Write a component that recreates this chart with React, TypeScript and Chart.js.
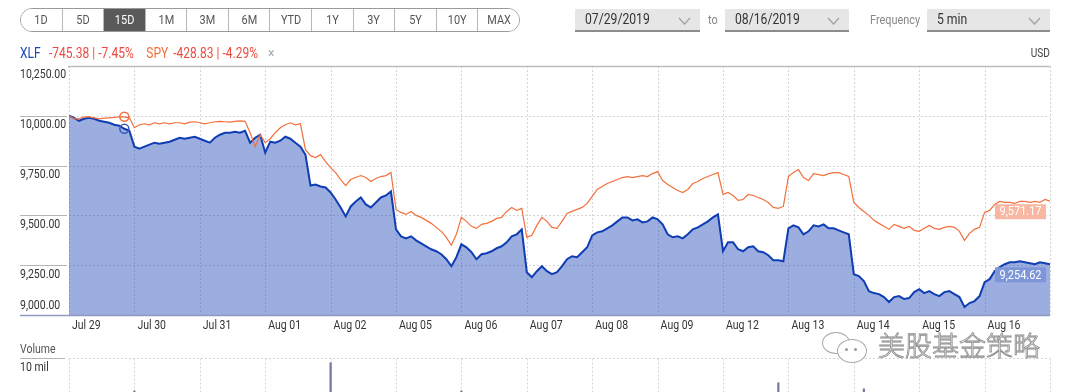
import React, { useEffect, useRef } from 'react';
import { Chart, registerables } from 'chart.js';

Chart.register(...registerables);

const FONT = "Roboto, 'Liberation Sans', sans-serif";
const SQUEEZE = 0.84;

const RANGE_BUTTONS = ['1D', '5D', '15D', '1M', '3M', '6M', 'YTD', '1Y', '3Y', '5Y', '10Y', 'MAX'];
const ACTIVE_RANGE = '15D';
const START_DATE = '07/29/2019';
const END_DATE = '08/16/2019';
const FREQUENCY = '5 min';

const DAY_LABELS = ['Jul 29', 'Jul 30', 'Jul 31', 'Aug 01', 'Aug 02', 'Aug 05', 'Aug 06', 'Aug 07', 'Aug 08', 'Aug 09', 'Aug 12', 'Aug 13', 'Aug 14', 'Aug 15', 'Aug 16'];
const SAMPLES_PER_DAY = 13;
const Y_TICKS = [9000, 9250, 9500, 9750, 10000, 10250];
const MARKER_INDEX = 11;

const XLF_NAME = 'XLF';
const XLF_CHANGE = '-745.38 | -7.45%';
const SPY_NAME = 'SPY';
const SPY_CHANGE = '-428.83 | -4.29%';

// normalised value (start = 10,000), 13 samples per trading day + final close
const XLF = [
  10000, 9990, 9975, 9985, 9990, 9985, 9975, 9970, 9965, 9955, 9950, 9935, 9925,
  9845, 9835, 9845, 9855, 9865, 9860, 9865, 9870, 9880, 9890, 9885, 9890, 9895,
  9885, 9875, 9865, 9890, 9905, 9915, 9915, 9920, 9915, 9925, 9865, 9890, 9905,
  9815, 9870, 9865, 9875, 9895, 9885, 9865, 9845, 9805, 9650, 9655, 9645, 9640,
  9615, 9580, 9540, 9495, 9545, 9570, 9590, 9555, 9540, 9565, 9590, 9600, 9620,
  9430, 9395, 9385, 9395, 9375, 9360, 9345, 9330, 9320, 9305, 9280, 9245, 9290,
  9355, 9340, 9315, 9280, 9305, 9310, 9320, 9335, 9345, 9365, 9395, 9405, 9430,
  9215, 9190, 9220, 9245, 9220, 9205, 9215, 9245, 9280, 9295, 9290, 9315, 9340,
  9400, 9415, 9420, 9435, 9450, 9470, 9490, 9490, 9475, 9480, 9465, 9470, 9490,
  9480, 9455, 9405, 9390, 9395, 9385, 9405, 9430, 9440, 9455, 9470, 9490, 9505,
  9320, 9365, 9365, 9330, 9320, 9340, 9345, 9320, 9315, 9300, 9275, 9275, 9270,
  9435, 9450, 9440, 9405, 9420, 9450, 9445, 9455, 9435, 9435, 9425, 9415, 9405,
  9205, 9195, 9170, 9120, 9110, 9105, 9090, 9065, 9090, 9095, 9080, 9085, 9115,
  9130, 9110, 9120, 9105, 9095, 9115, 9120, 9105, 9090, 9040, 9060, 9070, 9095,
  9165, 9180, 9220, 9240, 9255, 9265, 9265, 9270, 9265, 9260, 9255, 9265, 9260,
  9254.62,
];

const SPY = [
  10000, 9985, 9985, 9995, 9995, 9990, 9985, 9988, 9990, 9992, 9995, 9995, 9990,
  9940, 9955, 9960, 9955, 9965, 9960, 9965, 9960, 9965, 9965, 9960, 9968, 9970,
  9965, 9960, 9965, 9970, 9972, 9970, 9968, 9972, 9975, 9972, 9915, 9845, 9905,
  9865, 9885, 9915, 9940, 9955, 9965, 9955, 9960, 9830, 9800, 9790, 9805, 9770,
  9740, 9715, 9680, 9650, 9680, 9690, 9700, 9690, 9670, 9685, 9695, 9700, 9715,
  9530, 9515, 9505, 9520, 9500, 9490, 9475, 9460, 9440, 9420, 9390, 9350, 9405,
  9490, 9470, 9445, 9435, 9455, 9460, 9470, 9485, 9490, 9520, 9540, 9525, 9535,
  9390, 9400, 9450, 9490, 9470, 9440, 9435, 9470, 9510, 9520, 9530, 9540, 9560,
  9595, 9630, 9645, 9660, 9670, 9680, 9690, 9695, 9690, 9695, 9700, 9695, 9710,
  9720, 9675, 9655, 9640, 9625, 9615, 9630, 9660, 9670, 9685, 9695, 9705, 9715,
  9605, 9615, 9600, 9575, 9580, 9605, 9600, 9590, 9580, 9565, 9540, 9535, 9545,
  9695, 9715, 9730, 9690, 9675, 9710, 9705, 9700, 9710, 9715, 9715, 9705, 9695,
  9565, 9540, 9520, 9500, 9475, 9460, 9445, 9430, 9455, 9445, 9435, 9445, 9425,
  9420, 9435, 9450, 9435, 9430, 9440, 9445, 9440, 9420, 9375, 9410, 9430, 9440,
  9515, 9525, 9555, 9570, 9565, 9565, 9560, 9570, 9570, 9565, 9570, 9565, 9580,
  9571.17,
];

// visible volume spikes: sample index and millions of shares
const VOLUME_INDEX = [13, 52, 78, 141, 158];
const VOLUME_MIL = [5.1, 9.3, 5.1, 6.3, 5.4];
const VOLUME_TICK = 10;

const XLF_LINE = '#0f3db3';
const XLF_FILL = 'rgba(20,60,180,0.42)';
const XLF_BADGE = '#7d96d9';
const SPY_LINE = '#f2703c';
const SPY_BADGE = '#f8b7a0';
const RED = '#ec4a3f';

const fmt = (v: number) => v.toLocaleString('en-US', { minimumFractionDigits: 2, maximumFractionDigits: 2 });

// draw condensed text on canvas
const sText = (ctx: any, t: string, x: number, y: number, align: 'left' | 'center' = 'left') => {
  ctx.save();
  ctx.translate(x, y);
  ctx.scale(SQUEEZE, 1);
  ctx.textAlign = align;
  ctx.fillText(t, 0, 0);
  ctx.restore();
};

const priceDecor = {
  id: 'priceDecor',
  beforeDatasetsDraw(chart: any) {
    const { ctx, chartArea: a, scales } = chart;
    const x = scales.x;
    const y = scales.y;
    const yMin = Y_TICKS[0];
    const yMax = Y_TICKS[Y_TICKS.length - 1];
    ctx.save();
    ctx.lineWidth = 1;
    ctx.strokeStyle = '#d6d6d6';
    ctx.setLineDash([2, 2]);
    Y_TICKS.forEach((v) => {
      if (v === yMin || v === yMax) return;
      const py = Math.round(y.getPixelForValue(v)) + 0.5;
      ctx.beginPath();
      ctx.moveTo(a.left, py);
      ctx.lineTo(a.right, py);
      ctx.stroke();
    });
    for (let d = 0; d <= DAY_LABELS.length; d++) {
      const px = Math.round(x.getPixelForValue(d)) + 0.5;
      ctx.beginPath();
      ctx.moveTo(px, a.top);
      ctx.lineTo(px, a.bottom);
      ctx.stroke();
    }
    ctx.setLineDash([]);
    ctx.strokeStyle = '#b5b5b5';
    Y_TICKS.forEach((v) => {
      if (v === yMin || v === yMax) return;
      const py = Math.round(y.getPixelForValue(v)) + 0.5;
      ctx.beginPath();
      ctx.moveTo(20, py);
      ctx.lineTo(a.left - 2, py);
      ctx.stroke();
    });
    const top = Math.round(y.getPixelForValue(yMax)) + 0.5;
    ctx.strokeStyle = '#bdbdbd';
    ctx.lineWidth = 1.5;
    ctx.beginPath();
    ctx.moveTo(a.left - 1, top);
    ctx.lineTo(a.right, top);
    ctx.stroke();

    ctx.fillStyle = '#333';
    ctx.font = `12.5px ${FONT}`;
    ctx.textBaseline = 'top';
    Y_TICKS.forEach((v) => {
      const py = y.getPixelForValue(v);
      const ty = v === yMin ? py - 15 : py + 3;
      sText(ctx, fmt(v), 20, ty);
    });
    ctx.textBaseline = 'middle';
    DAY_LABELS.forEach((l, d) => {
      sText(ctx, l, x.getPixelForValue(d) + 3, a.bottom + 11);
    });
    ctx.restore();
  },
  afterDatasetsDraw(chart: any) {
    const { ctx, chartArea: a, scales } = chart;
    const y = scales.y;
    ctx.save();
    const bottom = Math.round(a.bottom) + 0.5;
    ctx.strokeStyle = '#8e9cc2';
    ctx.lineWidth = 1.5;
    ctx.beginPath();
    ctx.moveTo(20, bottom);
    ctx.lineTo(a.right, bottom);
    ctx.stroke();

    ctx.font = `13px ${FONT}`;
    ctx.textBaseline = 'middle';
    chart.data.datasets.forEach((ds: any) => {
      const last = ds.data[ds.data.length - 1].y;
      const py = y.getPixelForValue(last);
      const w = 51;
      const h = 15;
      const bx = a.right - 4 - w;
      const by = py + 3;
      ctx.fillStyle = ds.badgeColor;
      ctx.fillRect(bx, by, w, h);
      ctx.fillStyle = '#ffffff';
      sText(ctx, fmt(last), bx + w / 2, by + h / 2 + 0.5, 'center');
    });
    ctx.restore();
  },
};

const volumeDecor = {
  id: 'volumeDecor',
  beforeDatasetsDraw(chart: any) {
    const { ctx, chartArea: a, scales } = chart;
    const x = scales.x;
    const y = scales.y;
    ctx.save();
    const ty = Math.round(y.getPixelForValue(VOLUME_TICK)) + 0.5;
    ctx.lineWidth = 1;
    ctx.strokeStyle = '#d6d6d6';
    ctx.setLineDash([2, 2]);
    ctx.beginPath();
    ctx.moveTo(a.left, ty);
    ctx.lineTo(a.right, ty);
    ctx.stroke();
    for (let d = 0; d <= DAY_LABELS.length; d++) {
      const px = Math.round(x.getPixelForValue(d)) + 0.5;
      ctx.beginPath();
      ctx.moveTo(px, ty);
      ctx.lineTo(px, a.bottom);
      ctx.stroke();
    }
    ctx.setLineDash([]);
    ctx.strokeStyle = '#b5b5b5';
    ctx.beginPath();
    ctx.moveTo(20, ty);
    ctx.lineTo(a.left - 4, ty);
    ctx.stroke();
    ctx.fillStyle = '#555';
    ctx.font = `12.5px ${FONT}`;
    ctx.textBaseline = 'bottom';
    sText(ctx, 'Volume', 20, ty - 2);
    ctx.fillStyle = '#333';
    ctx.textBaseline = 'top';
    sText(ctx, `${VOLUME_TICK} mil`, 20, ty + 3);
    ctx.restore();
  },
};

const Sq = ({ children, origin = 'left center' }: { children: any; origin?: string }) => (
  <span style={{ display: 'inline-block', transform: `scaleX(${SQUEEZE})`, transformOrigin: origin }}>{children}</span>
);

const Chevron = () => (
  <svg width="13" height="8" style={{ position: 'absolute', right: 9, top: 8 }}>
    <polyline points="1,1 6.5,7 12,1" fill="none" stroke="#a0a0a0" strokeWidth="1.2" />
  </svg>
);

const Select = ({ left, width, text }: { left: number; width: number; text: string }) => (
  <div
    style={{
      position: 'absolute', left, top: 9, width, height: 21, background: '#e6e6e6',
      borderBottom: '2px solid #8c8c8c', boxSizing: 'content-box',
      fontSize: 14.5, color: '#333', lineHeight: '22px',
    }}
  >
    <span style={{ position: 'absolute', left: 10, top: 0 }}><Sq>{text}</Sq></span>
    <Chevron />
  </div>
);

export default function App() {
  const priceRef = useRef<HTMLCanvasElement>(null);
  const volRef = useRef<HTMLCanvasElement>(null);

  useEffect(() => {
    const xs = (i: number) => i / SAMPLES_PER_DAY;
    const xMax = DAY_LABELS.length;
    const pointR = (c: any) => (c.dataIndex === MARKER_INDEX ? 4.5 : 0);
    const price = new Chart(priceRef.current!, {
      type: 'line',
      data: {
        datasets: [
          {
            label: SPY_NAME,
            data: SPY.map((v, i) => ({ x: xs(i), y: v })),
            borderColor: SPY_LINE,
            borderWidth: 1.2,
            fill: false,
            pointRadius: pointR,
            pointBorderColor: SPY_LINE,
            pointBackgroundColor: 'rgba(255,255,255,0)',
            pointBorderWidth: 1.5,
            tension: 0,
            order: 0,
            badgeColor: SPY_BADGE,
          } as any,
          {
            label: XLF_NAME,
            data: XLF.map((v, i) => ({ x: xs(i), y: v })),
            borderColor: XLF_LINE,
            borderWidth: 2,
            backgroundColor: XLF_FILL,
            fill: 'start',
            pointRadius: pointR,
            pointBorderColor: '#3a5cc0',
            pointBackgroundColor: 'rgba(255,255,255,0)',
            pointBorderWidth: 1.5,
            tension: 0,
            order: 1,
            badgeColor: XLF_BADGE,
          } as any,
        ],
      },
      options: {
        responsive: false,
        animation: false,
        devicePixelRatio: 1,
        events: [],
        layout: { padding: { left: 69, right: 30, top: 66, bottom: 25 } },
        scales: {
          x: { type: 'linear', min: 0, max: xMax, display: false },
          y: { type: 'linear', min: Y_TICKS[0], max: Y_TICKS[Y_TICKS.length - 1], display: false },
        },
        plugins: { legend: { display: false }, tooltip: { enabled: false } },
      },
      plugins: [priceDecor],
    });

    const volume = new Chart(volRef.current!, {
      type: 'bar',
      data: {
        datasets: [
          {
            label: 'Volume',
            data: VOLUME_INDEX.map((idx, k) => ({ x: xs(idx), y: VOLUME_MIL[k] })),
            backgroundColor: '#6f7898',
            barThickness: 1.5,
          },
        ],
      },
      options: {
        responsive: false,
        animation: false,
        devicePixelRatio: 1,
        events: [],
        layout: { padding: { left: 69, right: 30, top: 18, bottom: 5 } },
        scales: {
          x: { type: 'linear', min: 0, max: xMax, offset: false, display: false },
          y: { type: 'linear', min: 0, max: VOLUME_TICK, display: false },
        },
        plugins: { legend: { display: false }, tooltip: { enabled: false } },
      },
      plugins: [volumeDecor],
    });

    return () => {
      price.destroy();
      volume.destroy();
    };
  }, []);

  return (
    <div
      style={{
        position: 'fixed', left: 0, top: 0, width: 1080, height: 392, overflow: 'hidden',
        background: '#fff', fontFamily: FONT, color: '#333',
      }}
    >
      <canvas ref={priceRef} width={1080} height={340} style={{ position: 'absolute', left: 0, top: 0 }} />
      <canvas ref={volRef} width={1080} height={90} style={{ position: 'absolute', left: 0, top: 340 }} />

      <div
        style={{
          position: 'absolute', left: 20, top: 8, width: 498, height: 22, border: '1px solid #9a9a9a',
          borderRadius: 12, display: 'flex', overflow: 'hidden', background: '#fff',
        }}
      >
        {RANGE_BUTTONS.map((b, i) => (
          <div
            key={b}
            style={{
              flex: 1, textAlign: 'center', fontSize: 13, lineHeight: '22px',
              borderLeft: i === 0 ? 'none' : '1px solid #b8b8b8',
              background: b === ACTIVE_RANGE ? '#5a5a5a' : '#fff',
              color: b === ACTIVE_RANGE ? '#fff' : '#555',
            }}
          >
            <Sq origin="center">{b}</Sq>
          </div>
        ))}
      </div>

      <Select left={575} width={125} text={START_DATE} />
      <div style={{ position: 'absolute', left: 708, top: 9, fontSize: 13, lineHeight: '22px', color: '#888' }}><Sq>to</Sq></div>
      <Select left={725} width={124} text={END_DATE} />
      <div style={{ position: 'absolute', left: 870, top: 9, fontSize: 13, lineHeight: '22px', color: '#888' }}><Sq>Frequency</Sq></div>
      <Select left={927} width={123} text={FREQUENCY} />

      <div style={{ position: 'absolute', left: 20, top: 45, fontSize: 14.3, lineHeight: '16px', whiteSpace: 'nowrap' }}>
        <Sq>
          <span style={{ color: '#1d46b8' }}>{XLF_NAME}</span>
          <span style={{ color: RED, marginLeft: 10 }}>{XLF_CHANGE}</span>
          <span style={{ color: SPY_LINE, marginLeft: 15 }}>{SPY_NAME}</span>
          <span style={{ color: RED, marginLeft: 6 }}>{SPY_CHANGE}</span>
          <span style={{ color: '#aaa', marginLeft: 12 }}>×</span>
        </Sq>
      </div>
      <div style={{ position: 'absolute', right: 30, top: 45, fontSize: 12, lineHeight: '16px', color: '#444' }}><Sq origin="right center">USD</Sq></div>

      <div style={{ position: 'absolute', left: 822, top: 332, width: 48, height: 30 }}>
        <div style={{ position: 'absolute', left: 0, top: 0, width: 26, height: 20, border: '1.5px solid #a8a8a8', borderRadius: '50%', background: 'rgba(255,255,255,0.7)' }} />
        <div style={{ position: 'absolute', left: 15, top: 7, width: 28, height: 22, border: '1.5px solid #a8a8a8', borderRadius: '50%', background: 'rgba(255,255,255,0.9)' }} />
        <div style={{ position: 'absolute', left: 23, top: 16, width: 3, height: 3, borderRadius: '50%', background: '#999' }} />
        <div style={{ position: 'absolute', left: 32, top: 16, width: 3, height: 3, borderRadius: '50%', background: '#999' }} />
      </div>
      <div
        style={{
          position: 'absolute', left: 878, top: 328, fontSize: 27, lineHeight: '34px', letterSpacing: 0,
          fontFamily: "'Noto Sans CJK SC', sans-serif", fontWeight: 300, color: 'rgba(255,255,255,0.95)',
          WebkitTextStroke: '0.8px #8a8a8a', whiteSpace: 'nowrap',
        }}
      >
        美股基金策略
      </div>
    </div>
  );
}
